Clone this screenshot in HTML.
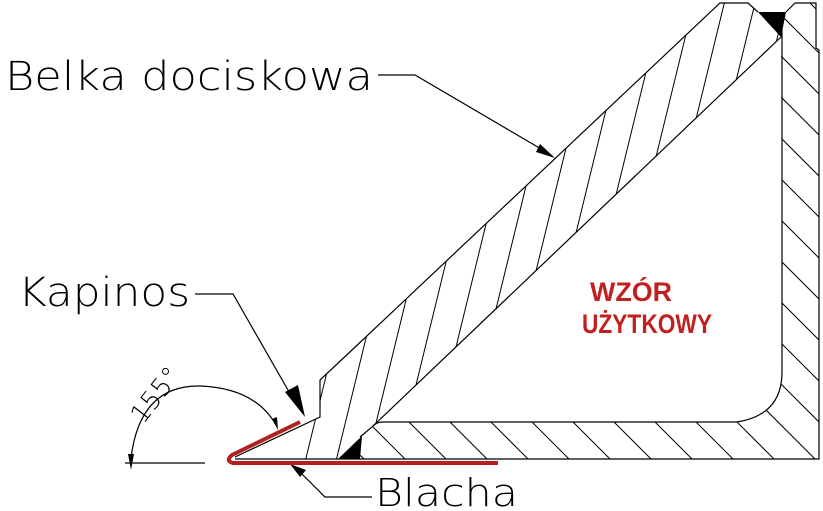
<!DOCTYPE html>
<html><head><meta charset="utf-8"><style>
html,body{margin:0;padding:0;background:#fff;overflow:hidden;width:823px;height:511px;}
svg{display:block}
text{font-family:"DejaVu Sans","Liberation Sans",sans-serif;}
.lbl{font-weight:200;}
</style></head><body>
<svg width="823" height="511" viewBox="0 0 823 511" xmlns="http://www.w3.org/2000/svg">
<defs>
<clipPath id="beam"><polygon points="720,3 748,3 758,12 781,37 372,427 360,436 340,459 235,459 235,457 320,417 320,380 352,350"/></clipPath>
<clipPath id="plate"><path d="M781,37 L786,12 795,3 816,3 816,48 819,50 819,459 360,459 362,436 372,427 Q376,422 383,422 L737,422 Q782,415 782,372 Z"/></clipPath>
</defs>
<g fill="none" stroke="#000" stroke-width="1.2">
<polyline points="235,457 320,417 320,380 352,350 720,3 748,3 758,12"/>
<line x1="372" y1="427" x2="781" y2="37"/>
<path d="M781,37 L781,12 M786,12 L795,3 816,3 816,48 819,50 819,459 235,459"/>
<path d="M782,12 L782,372 Q782,415 737,422 L383,422 Q376,422 372,427 L360,437"/>
<g clip-path="url(#beam)" stroke-width="1">
<line x1="327" y1="372" x2="265" y2="626"/>
<line x1="367" y1="334" x2="305" y2="588"/>
<line x1="407" y1="296" x2="345" y2="550"/>
<line x1="447" y1="258" x2="385" y2="512"/>
<line x1="487" y1="220" x2="425" y2="474"/>
<line x1="527" y1="182" x2="465" y2="436"/>
<line x1="567" y1="144" x2="505" y2="398"/>
<line x1="607" y1="106" x2="545" y2="360"/>
<line x1="647" y1="68" x2="585" y2="322"/>
<line x1="687" y1="30" x2="625" y2="284"/>
<line x1="727" y1="-8" x2="665" y2="246"/>
<line x1="767" y1="-46" x2="705" y2="208"/>
<line x1="807" y1="-84" x2="745" y2="170"/>
</g>
<g clip-path="url(#plate)" stroke-width="1">
<line x1="0" y1="-233" x2="900" y2="667" transform="translate(-410,0)"/>
<line x1="0" y1="-233" x2="900" y2="667" transform="translate(-369,0)"/>
<line x1="0" y1="-233" x2="900" y2="667" transform="translate(-328,0)"/>
<line x1="0" y1="-233" x2="900" y2="667" transform="translate(-287,0)"/>
<line x1="0" y1="-233" x2="900" y2="667" transform="translate(-246,0)"/>
<line x1="0" y1="-233" x2="900" y2="667" transform="translate(-205,0)"/>
<line x1="0" y1="-233" x2="900" y2="667" transform="translate(-164,0)"/>
<line x1="0" y1="-233" x2="900" y2="667" transform="translate(-123,0)"/>
<line x1="0" y1="-233" x2="900" y2="667" transform="translate(-82,0)"/>
<line x1="0" y1="-233" x2="900" y2="667" transform="translate(-41,0)"/>
<line x1="0" y1="-233" x2="900" y2="667"/>
<line x1="0" y1="-233" x2="900" y2="667" transform="translate(41,0)"/>
<line x1="0" y1="-233" x2="900" y2="667" transform="translate(82,0)"/>
<line x1="0" y1="-233" x2="900" y2="667" transform="translate(123,0)"/>
<line x1="0" y1="-233" x2="900" y2="667" transform="translate(164,0)"/>
<line x1="0" y1="-233" x2="900" y2="667" transform="translate(205,0)"/>
<line x1="0" y1="-233" x2="900" y2="667" transform="translate(246,0)"/>
<line x1="0" y1="-233" x2="900" y2="667" transform="translate(287,0)"/>
<line x1="0" y1="-233" x2="900" y2="667" transform="translate(328,0)"/>
<line x1="0" y1="-233" x2="900" y2="667" transform="translate(369,0)"/>
<line x1="0" y1="-233" x2="900" y2="667" transform="translate(410,0)"/>
<line x1="0" y1="-233" x2="900" y2="667" transform="translate(451,0)"/>
<line x1="0" y1="-233" x2="900" y2="667" transform="translate(492,0)"/>
<line x1="0" y1="-233" x2="900" y2="667" transform="translate(533,0)"/>
<line x1="0" y1="-233" x2="900" y2="667" transform="translate(574,0)"/>
<line x1="0" y1="-233" x2="900" y2="667" transform="translate(615,0)"/>
<line x1="0" y1="-233" x2="900" y2="667" transform="translate(656,0)"/>
</g>
<polyline points="378,75 415,75 548,153"/>
<polyline points="195,294 233,294 296,404"/>
<polyline points="372,497 325,497 300,472"/>
<line x1="125" y1="463" x2="205" y2="463"/>
<path d="M131,458 Q140,385 200,386 Q255,388 276,425"/>
</g>
<polygon points="758,12 786,12 781,37" fill="#000"/>
<polygon points="338,459 360,459 362,436" fill="#000"/>
<polygon points="555,158 536,152 540,144" fill="#000"/>
<polygon points="305,417 285,392 298,385" fill="#000"/>
<polygon points="290,464 306,470 300,477" fill="#000"/>
<polygon points="131,470 128,454 134,454" fill="#000"/>
<polygon points="278,430 272,419 277,417" fill="#000"/>
<path d="M300,422 L232,455 Q225,461 233,463 L498,463" fill="none" stroke="#b32020" stroke-width="4" stroke-linejoin="round"/>
<text class="lbl" x="5" y="90" font-size="40" textLength="368" lengthAdjust="spacingAndGlyphs" fill="#000">Belka dociskowa</text>
<text class="lbl" x="18" y="306" font-size="40" textLength="172" lengthAdjust="spacingAndGlyphs" fill="#000">Kapinos</text>
<text class="lbl" x="375" y="506" font-size="38" textLength="143" lengthAdjust="spacingAndGlyphs" fill="#000">Blacha</text>
<text class="lbl" x="0" y="0" font-size="26" transform="translate(143,425) rotate(-52)" fill="#000">155°</text>
<text x="590" y="301" font-size="27" font-weight="bold" fill="#c0201f" textLength="82" lengthAdjust="spacingAndGlyphs" style="font-family:'Liberation Sans',sans-serif">WZÓR</text>
<text x="582" y="333" font-size="27" font-weight="bold" fill="#c0201f" textLength="130" lengthAdjust="spacingAndGlyphs" style="font-family:'Liberation Sans',sans-serif">UŻYTKOWY</text>
</svg>
</body></html>
